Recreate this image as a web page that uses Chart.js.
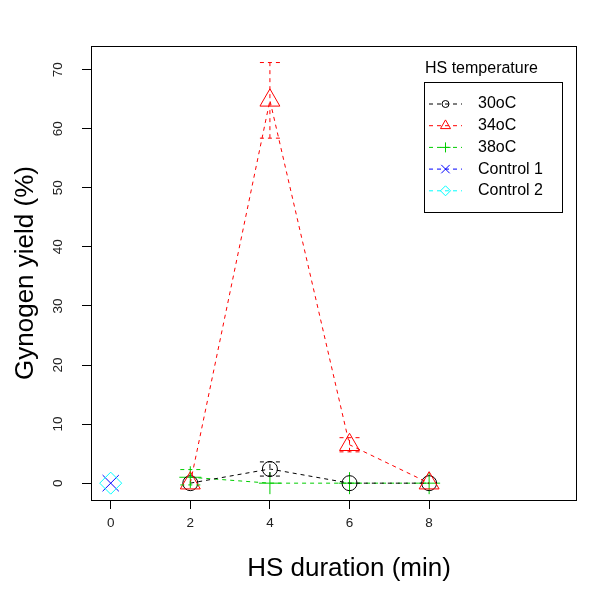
<!DOCTYPE html>
<html><head><meta charset="utf-8">
<script src="https://cdn.jsdelivr.net/npm/chart.js@4.4.1/dist/chart.umd.min.js"></script>
<style>html,body{margin:0;padding:0;background:#fff;}#wrap{width:600px;height:591px;}</style>
</head><body><div id="wrap"><canvas id="c" width="600" height="591"></canvas></div>
<script>
// ---- data ----
const durations = [2, 4, 6, 8];
const yield30 = [0, 2.4, 0, 0];
const err30   = [0, 1.2, 0, 0];
const yield34 = [0, 64.8, 6.5, 0];
const err34   = [0, 6.4, 1.2, 0];
const yield38 = [1.0, 0, 0, 0];
const err38   = [1.3, 0, 0, 0];
const controlX = [0];
const control1 = [0];
const control2 = [0];
const seriesNames = ['30oC', '34oC', '38oC', 'Control 1', 'Control 2'];
const xTicks = [0, 2, 4, 6, 8];
const yTicks = [0, 10, 20, 30, 40, 50, 60, 70];

const FONT = "'Liberation Sans', Arial, sans-serif";
const colors = ['#000000', '#FF0000', '#00CD00', '#0000FF', '#00FFFF'];
const styles = ['circle', 'triangle', 'cross', 'crossRot', 'rectRot'];
const radii = [7.5, 11.5, 11, 11.5, 11];
const legendRadii = [3.5, 5.8, 5, 6, 5];
const drawOrder = [2, 1, 3, 4, 0];

function pts(xs, ys) { return xs.map((x, i) => ({x: x, y: ys[i]})); }

const ds = [
  {label: seriesNames[0], data: pts(durations, yield30), err: err30},
  {label: seriesNames[1], data: pts(durations, yield34), err: err34},
  {label: seriesNames[2], data: pts(durations, yield38), err: err38},
  {label: seriesNames[3], data: pts(controlX, control1)},
  {label: seriesNames[4], data: pts(controlX, control2)}
].map((d, i) => Object.assign(d, {
  showLine: true,
  borderColor: colors[i],
  borderWidth: 1,
  borderDash: [4, 4],
  tension: 0,
  fill: false,
  pointStyle: styles[i],
  pointRadius: radii[i],
  pointHoverRadius: radii[i],
  pointBorderColor: colors[i],
  pointBackgroundColor: 'rgba(0,0,0,0)',
  pointBorderWidth: 1,
  order: drawOrder[i]
}));

const errorBars = {
  id: 'errorBars',
  afterDatasetsDraw(chart) {
    const ctx = chart.ctx, xs = chart.scales.x, ys = chart.scales.y;
    chart.data.datasets.forEach((d) => {
      if (!d.err) return;
      ctx.save();
      ctx.strokeStyle = d.borderColor;
      ctx.lineWidth = 1;
      ctx.setLineDash([4, 4]);
      d.data.forEach((p, i) => {
        const e = d.err[i];
        if (!e) return;
        const px = xs.getPixelForValue(p.x);
        const y1 = ys.getPixelForValue(p.y + e), y0 = ys.getPixelForValue(p.y - e);
        ctx.beginPath();
        ctx.moveTo(px, y0); ctx.lineTo(px, y1);
        ctx.moveTo(px - 10, y1); ctx.lineTo(px + 10, y1);
        ctx.moveTo(px - 10, y0); ctx.lineTo(px + 10, y0);
        ctx.stroke();
      });
      ctx.restore();
    });
  }
};

const shiftXTitle = {
  id: 'shiftXTitle',
  afterLayout(chart) {
    const s = chart.scales.x;
    if (s && !s._shifted) {
      const orig = s.drawTitle.bind(s);
      s.drawTitle = function () {
        this.ctx.save();
        this.ctx.translate(15.5, 0);
        orig();
        this.ctx.restore();
      };
      s._shifted = true;
    }
  }
};

const boxAndLegend = {
  id: 'boxAndLegend',
  afterDraw(chart) {
    const ctx = chart.ctx, a = chart.chartArea;
    ctx.save();
    ctx.strokeStyle = '#000';
    ctx.lineWidth = 1;
    ctx.strokeRect(Math.round(a.left) + 0.5, Math.round(a.top) + 0.5,
                   Math.round(a.right - a.left), Math.round(a.bottom - a.top));
    // legend
    const lx = 424.5, ly = 82.5, lw = 138, lh = 130;
    ctx.strokeRect(lx, ly, lw, lh);
    ctx.fillStyle = '#000';
    ctx.font = '16px ' + FONT;
    ctx.textBaseline = 'middle';
    ctx.textAlign = 'left';
    ctx.fillText('HS temperature', 425, 69);
    seriesNames.forEach((name, i) => {
      const y = 104 + i * 21.7;
      ctx.save();
      ctx.strokeStyle = colors[i];
      ctx.setLineDash([4, 4]);
      ctx.beginPath(); ctx.moveTo(429, y); ctx.lineTo(462, y); ctx.stroke();
      ctx.restore();
      ctx.save();
      ctx.strokeStyle = colors[i];
      ctx.fillStyle = 'rgba(0,0,0,0)';
      ctx.lineWidth = 1;
      Chart.helpers.drawPoint(ctx, {pointStyle: styles[i], radius: legendRadii[i], rotation: 0, borderWidth: 1}, 445.5, y);
      ctx.restore();
      ctx.fillStyle = '#000';
      ctx.fillText(name, 478, y);
    });
    ctx.restore();
  }
};

new Chart(document.getElementById('c'), {
  type: 'scatter',
  data: {datasets: ds},
  options: {
    responsive: false,
    animation: false,
    devicePixelRatio: 1,
    layout: {padding: {left: 0, top: 46, right: 24, bottom: 0}},
    plugins: {legend: {display: false}, tooltip: {enabled: false}},
    scales: {
      x: {
        type: 'linear', min: -0.495, max: 11.69,
        afterBuildTicks: s => { s.ticks = xTicks.map(v => ({value: v})); },
        afterFit: s => { s.height = 91; },
        grid: {drawOnChartArea: false, drawTicks: true, tickLength: 9, color: '#000'},
        border: {display: false},
        ticks: {font: {family: FONT, size: 13.5}, color: '#222', padding: 6, maxRotation: 0, autoSkip: false},
        title: {display: true, text: 'HS duration (min)', color: '#000', font: {family: FONT, size: 26}, padding: {top: 0, bottom: 7}}
      },
      y: {
        type: 'linear', min: -2.85, max: 74.0,
        afterBuildTicks: s => { s.ticks = yTicks.map(v => ({value: v})); },
        afterFit: s => { s.width = 91; },
        grid: {drawOnChartArea: false, drawTicks: true, tickLength: 9, color: '#000'},
        border: {display: false},
        ticks: {font: {family: FONT, size: 13.5}, color: '#222', padding: 16, minRotation: 90, maxRotation: 90, crossAlign: 'center', autoSkip: false},
        title: {display: true, text: 'Gynogen yield (%)', color: '#000', font: {family: FONT, size: 26}, padding: {top: 10, bottom: 0}}
      }
    }
  },
  plugins: [errorBars, shiftXTitle, boxAndLegend]
});
</script>
</body></html>
